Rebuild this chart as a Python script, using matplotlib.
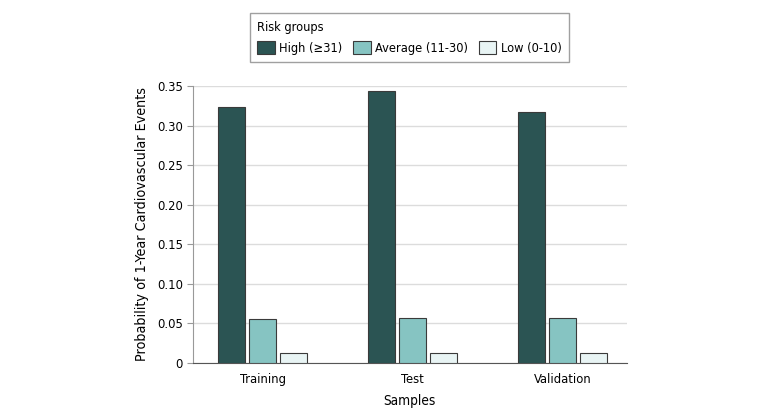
import numpy as np
import matplotlib
matplotlib.use("Agg")
import matplotlib.pyplot as plt

plt.rcParams['font.family'] = ['DejaVu Sans']
plt.rcParams['font.stretch'] = 'condensed'

###############################################################################
samples = ["Training", "Test", "Validation"]
groups = ["High (≥31)", "Average (11-30)", "Low (0-10)"]
high = [0.323, 0.344, 0.317]
average = [0.055, 0.057, 0.057]
low = [0.012, 0.012, 0.012]
yticks = [0, 0.05, 0.10, 0.15, 0.20, 0.25, 0.30, 0.35]
ytick_labels = ["0", "0.05", "0.10", "0.15", "0.20", "0.25", "0.30", "0.35"]
colors = ["#2b5453", "#86c4c2", "#e8f4f4"]
###############################################################################

fig = plt.figure(figsize=(7.8, 4.18), dpi=100)
ax = fig.add_axes([0.247, 0.132, 0.557, 0.662])

x = np.arange(len(samples))
w = 0.18
step = 0.207
for i, (vals, lab) in enumerate(zip([high, average, low], groups)):
    ax.bar(x + (i - 1) * step, vals, width=w, color=colors[i],
           edgecolor="#3a3a3a", linewidth=0.8, label=lab, zorder=3)

ax.set_xlim(-0.467, 2.43)
ax.set_ylim(0, 0.35)
ax.set_yticks(yticks)
ax.set_yticklabels(ytick_labels)
ax.set_xticks(x)
ax.set_xticklabels(samples)
ax.yaxis.grid(True, color="#dcdcdc", linewidth=1, zorder=0)
ax.tick_params(axis="x", length=0, pad=7, labelsize=9.3)
ax.tick_params(axis="y", length=4, color="#999999", labelsize=9.3, pad=3)
for s in ["top", "right"]:
    ax.spines[s].set_visible(False)
ax.spines["left"].set_color("#999999")
ax.spines["bottom"].set_color("#555555")
ax.set_xlabel("Samples", fontsize=9.8, labelpad=6)
ax.set_ylabel("Probability of 1-Year Cardiovascular Events", fontsize=10.3, labelpad=6)

leg = fig.legend(loc="upper center", bbox_to_anchor=(0.525, 0.983), ncol=3,
                 title="Risk groups", frameon=True, fancybox=False,
                 edgecolor="#888888", fontsize=9.2, title_fontsize=9.2,
                 handlelength=1.35, handleheight=1.25, handletextpad=0.35,
                 columnspacing=0.85, borderpad=0.6)
leg._legend_box.align = "left"
leg.get_frame().set_linewidth(1)

fig.savefig("out.png", dpi=100)
